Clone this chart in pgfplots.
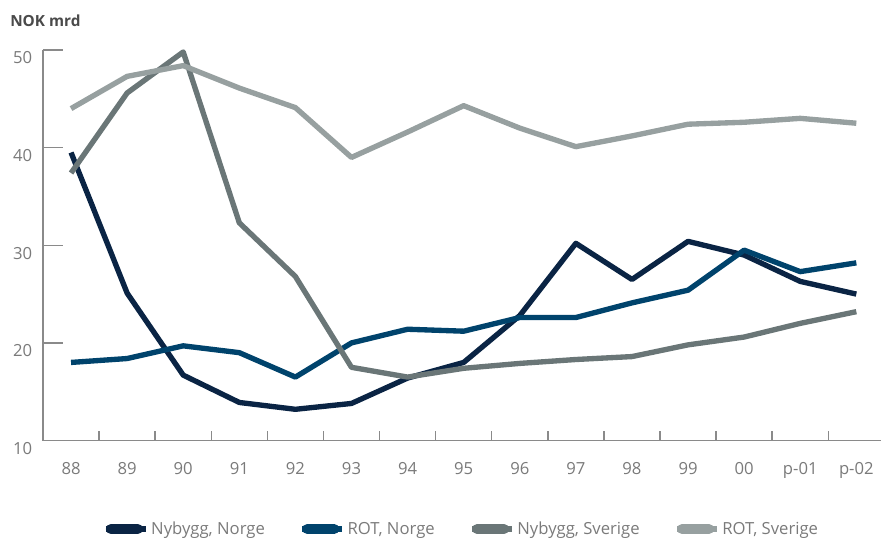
\documentclass[border=0pt]{standalone}
\usepackage{fontspec}
\setmainfont{Open Sans}
\usepackage{pgfplots}
\usepackage{pgfplotstable}
\pgfplotsset{compat=1.18}

\definecolor{nyno}{HTML}{0A2444}
\definecolor{rotno}{HTML}{00436C}
\definecolor{nyse}{HTML}{6A7677}
\definecolor{rotse}{HTML}{97A0A0}
\definecolor{axgray}{HTML}{8A8A8A}
\definecolor{txtgray}{HTML}{7A7A7A}
\definecolor{ttlgray}{HTML}{4A4A4A}

% x: 0 = 88 ... 14 = p-02
\pgfplotstableread{
x  nyno  rotno  nyse  rotse
0  39.5  18.0   37.4  44.0
1  25.1  18.4   45.6  47.3
2  16.7  19.7   49.8  48.4
3  13.9  19.0   32.3  46.1
4  13.2  16.5   26.8  44.1
5  13.8  20.0   17.5  39.0
6  16.4  21.4   16.5  41.6
7  18.0  21.2   17.4  44.3
8  22.8  22.6   17.9  42.0
9  30.2  22.6   18.3  40.1
10 26.5  24.1   18.6  41.2
11 30.4  25.4   19.8  42.4
12 29.0  29.5   20.6  42.6
13 26.3  27.3   22.0  43.0
14 25.0  28.2   23.2  42.5
}\datatable

\begin{document}
\begin{tikzpicture}
\begin{axis}[
    scale only axis,
    width=628.5pt, height=292.9pt,
    xmin=-0.5, xmax=14.44,
    ymin=10, ymax=50,
    axis lines*=left,
    axis line style={draw=axgray, line width=1.1pt},
    xtick={0,...,14},
    xticklabels={88,89,90,91,92,93,94,95,96,97,98,99,00,p-01,p-02},
    minor xtick={0.5,1.5,...,13.5},
    xtick style={draw=none},
    minor x tick style={draw=axgray, line width=1.1pt},
    ytick={10,20,30,40,50},
    ytick style={draw=axgray, line width=1.1pt},
    tick align=inside,
    major tick length=15pt,
    minor tick length=7.5pt,
    /pgf/number format/assume math mode=true,
    tick label style={font=\fontsize{12.5}{15}\selectfont, text=txtgray},
    yticklabel style={anchor=east, inner sep=0pt, xshift=-8pt, yshift=-6pt},
    xticklabel style={anchor=north, inner sep=0pt, yshift=-16pt},
    clip=false,
    legend columns=4,
    legend style={draw=none, fill=none, at={(0.5,0)}, anchor=center, yshift=-66.4pt,
        font=\fontsize{12.5}{15}\selectfont, text=txtgray,
        /tikz/every even column/.append style={column sep=24pt}},
    legend image code/.code={
        \path (0pt,0pt) -- (30pt,0pt);
        \draw[#1, line width=7.5pt, line cap=round] (3.75pt,0pt) -- (24pt,0pt);},
    every axis plot/.append style={line width=4pt, line join=round},
]
\addplot[nyno] table[x=x, y=nyno] {\datatable};
\addlegendentry{Nybygg, Norge}
\addplot[rotno] table[x=x, y=rotno] {\datatable};
\addlegendentry{ROT, Norge}
\addplot[nyse] table[x=x, y=nyse] {\datatable};
\addlegendentry{Nybygg, Sverige}
\addplot[rotse] table[x=x, y=rotse] {\datatable};
\addlegendentry{ROT, Sverige}
\end{axis}
\node[anchor=base west, inner sep=0pt, text=ttlgray, font=\bfseries\fontsize{11.5}{14}\selectfont]
    at (-24.75pt,310.9pt) {NOK mrd};
\pgfresetboundingbox
\path (-32.25pt,-72.4pt) rectangle (628.5pt,330.4pt);
\end{tikzpicture}
\end{document}
